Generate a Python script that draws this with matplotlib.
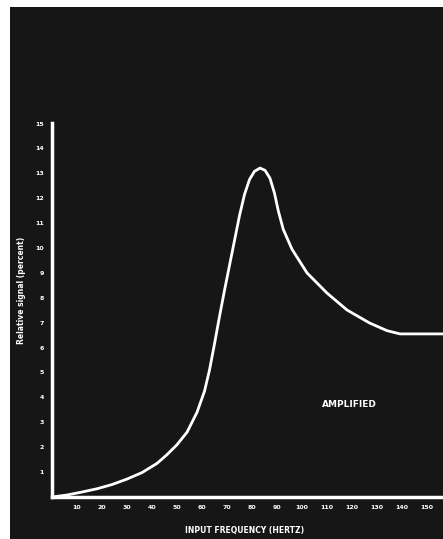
import matplotlib
matplotlib.use("Agg")
import matplotlib.pyplot as plt
from matplotlib.patches import Rectangle

# curve (x and y in tick units)
freq = [0, 0.6, 1.2, 1.8, 2.4, 3.0, 3.6, 4.2, 4.6, 5.0, 5.4, 5.8, 6.1, 6.3,
        6.5, 6.7, 6.9, 7.1, 7.3, 7.5, 7.7, 7.9, 8.1, 8.32, 8.52, 8.72, 8.9,
        9.05, 9.25, 9.6, 10.2, 11.0, 11.8, 12.7, 13.4, 13.92, 15.64]
signal = [0, 0.08, 0.2, 0.33, 0.5, 0.72, 0.98, 1.35, 1.7, 2.1, 2.6, 3.4,
          4.25, 5.1, 6.15, 7.25, 8.3, 9.3, 10.3, 11.3, 12.15, 12.75, 13.08,
          13.21, 13.12, 12.8, 12.2, 11.5, 10.75, 9.95, 9.0, 8.19, 7.51, 6.99,
          6.68, 6.55, 6.55]
x_ticks = list(range(1, 16))
y_ticks = list(range(1, 16))

BG = "#161616"
FG = "white"

W, H = 443, 539
fig = plt.figure(figsize=(W / 100, H / 100), dpi=100)
fig.patch.set_facecolor("white")
fig.add_artist(Rectangle((10 / W, 0), 1 - 10 / W, 1 - 7 / H,
                         transform=fig.transFigure, facecolor=BG,
                         edgecolor="none", zorder=0))

x0, y0, x1, y1 = 52, 123, 443, 497
ax = fig.add_axes([x0 / W, 1 - y1 / H, (x1 - x0) / W, (y1 - y0) / H])
ax.set_facecolor(BG)
ax.plot(freq, signal, color=FG, lw=2.0, solid_joinstyle="round",
        solid_capstyle="round")
ax.set_xlim(0, (x1 - x0) / 25)
ax.set_ylim(0, (y1 - y0) / 24.9)

for side in ("top", "right"):
    ax.spines[side].set_visible(False)
for side in ("left", "bottom"):
    ax.spines[side].set_color(FG)
    ax.spines[side].set_linewidth(2.5)

ax.set_xticks(x_ticks)
ax.set_yticks(y_ticks)
ax.set_xticklabels([str(v * 10) for v in x_ticks])
ax.set_yticklabels([str(v) for v in y_ticks])
ax.tick_params(colors=FG, length=0, labelsize=4.5, pad=6)
for lab in ax.get_xticklabels() + ax.get_yticklabels():
    lab.set_fontweight("bold")

ax.text(11.9, 3.7, "AMPLIFIED", color=FG, fontsize=6.5, fontweight="bold",
        ha="center", va="center")

fig.text(245 / W, 1 - 530 / H, "INPUT FREQUENCY (HERTZ)", color=FG,
         fontsize=5.5, fontweight="bold", ha="center", va="center")
fig.text(22 / W, 1 - 290 / H, "Relative signal (percent)", color=FG,
         fontsize=5.5, fontweight="bold", ha="center", va="center",
         rotation=90)

fig.savefig("out.png", dpi=100, facecolor=fig.get_facecolor())
